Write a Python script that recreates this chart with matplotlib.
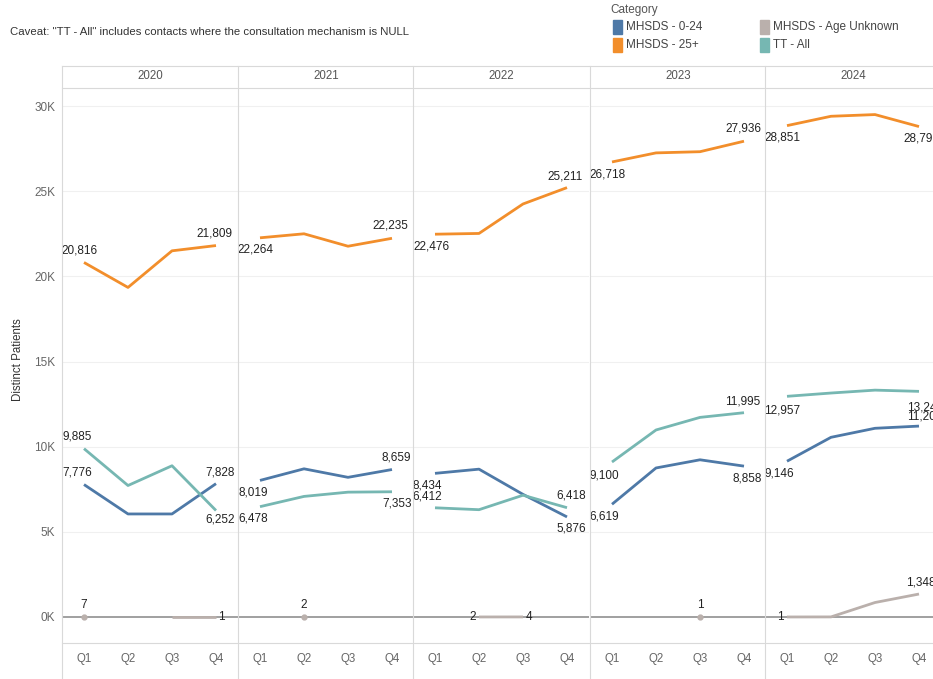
import numpy as np
import matplotlib.pyplot as plt
from matplotlib.lines import Line2D
from matplotlib.patches import Rectangle

plt.rcParams['font.family'] = ['Liberation Sans', 'DejaVu Sans']

# data
years = ['2020', '2021', '2022', '2023', '2024']
quarters = ['Q1', 'Q2', 'Q3', 'Q4']
nan = np.nan

mhsds_0_24 = [[7776, 6050, 6050, 7828],
              [8019, 8700, 8200, 8659],
              [8434, 8680, 7200, 5876],
              [6619, 8750, 9230, 8858],
              [9146, 10550, 11080, 11209]]
mhsds_25 = [[20816, 19350, 21500, 21809],
            [22264, 22500, 21770, 22235],
            [22476, 22520, 24250, 25211],
            [26718, 27250, 27320, 27936],
            [28851, 29400, 29500, 28796]]
mhsds_unknown = [[7, nan, 1, 1],
                 [nan, 2, nan, nan],
                 [nan, 2, 4, nan],
                 [nan, nan, 1, nan],
                 [1, 5, 850, 1348]]
tt_all = [[9885, 7720, 8880, 6252],
          [6478, 7080, 7330, 7353],
          [6412, 6300, 7150, 6418],
          [9100, 10980, 11720, 11995],
          [12957, 13150, 13320, 13248]]

series = [
    ('MHSDS - 0-24', mhsds_0_24, '#4e79a7'),
    ('MHSDS - 25+', mhsds_25, '#f28e2b'),
    ('MHSDS - Age Unknown', mhsds_unknown, '#bab0ac'),
    ('TT - All', tt_all, '#76b7b2'),
]

# label offsets in pixels (year, quarter, dx, dy)
label_pos = {
    'MHSDS - 0-24': [(0, 0, -7, 12), (0, 3, 4, 11), (1, 0, -7, -12), (1, 3, 4, 12),
                     (2, 0, -8, -12), (2, 3, 4, -12), (3, 0, -8, -12), (3, 3, 3, -12),
                     (4, 0, -8, -12), (4, 3, 6, 10)],
    'MHSDS - 25+': [(0, 0, -4, 12), (0, 3, -2, 12), (1, 0, -5, -12), (1, 3, -2, 13),
                    (2, 0, -4, -12), (2, 3, -2, 11), (3, 0, -5, -13), (3, 3, -1, 13),
                    (4, 0, -5, -12), (4, 3, 2, -12)],
    'MHSDS - Age Unknown': [(0, 0, 0, 12), (0, 3, 5, 0), (1, 1, 0, 12), (2, 1, -6, 0),
                            (2, 2, 6, 0), (3, 2, 0, 12), (4, 0, -7, 0), (4, 3, 2, 12)],
    'TT - All': [(0, 0, -7, 12), (0, 3, 4, -9), (1, 0, -7, -12), (1, 3, 5, -12),
                 (2, 0, -8, 11), (2, 3, 4, 12), (3, 0, -8, -13), (3, 3, -1, 11),
                 (4, 0, -5, -14), (4, 3, 6, -16)],
}

W, H = 933, 679
fig = plt.figure(figsize=(W / 100, H / 100), dpi=100)


def fx(px):
    return px / W


def fy(py):
    return 1 - py / H


panel_left = [62, 238, 413, 590, 765]
panel_w = 176
plot_top, plot_bottom = 88, 643
ymin, ymax = -1527, 31060
grid_c = '#d9d9d9'

x = np.arange(1, 5)
for i, yr in enumerate(years):
    ax = fig.add_axes([fx(panel_left[i]), fy(plot_bottom), fx(panel_w),
                       (plot_bottom - plot_top) / H])
    ax.set_xlim(0.5, 4.5)
    ax.set_ylim(ymin, ymax)
    for s in ax.spines.values():
        s.set_visible(False)
    for g in range(5000, 31000, 5000):
        ax.axhline(g, color='#f0f0f0', lw=0.8, zorder=0)
    ax.axhline(0, color='#a0a0a0', lw=1.4, zorder=1)
    ax.set_xticks(x)
    ax.set_xticklabels(quarters, fontsize=8.3, color='#666666')
    ax.tick_params(axis='x', length=0, pad=7)
    if i == 0:
        ax.set_yticks(range(0, 31000, 5000))
        ax.set_yticklabels([f'{v // 1000}K' for v in range(0, 31000, 5000)],
                           fontsize=8.5, color='#666666')
        ax.tick_params(axis='y', length=0, pad=5)
    else:
        ax.set_yticks([])

    for name, data, col in series:
        vals = np.array(data[i], dtype=float)
        ax.plot(x, vals, color=col, lw=2.0, solid_capstyle='butt', zorder=3)
        # isolated points
        for k in range(4):
            if np.isnan(vals[k]):
                continue
            left = k == 0 or np.isnan(vals[k - 1])
            right = k == 3 or np.isnan(vals[k + 1])
            if left and right:
                ax.plot(x[k], vals[k], 'o', color=col, ms=3.5, zorder=3)
        for (yi, qi, dx, dy) in label_pos[name]:
            if yi != i:
                continue
            v = data[yi][qi]
            ax.annotate(f'{int(v):,}', (x[qi], v), xytext=(dx, dy),
                        textcoords='offset pixels', ha='center', va='center',
                        fontsize=8.5, color='#222222', zorder=5,
                        annotation_clip=False)

    fig.text(fx(panel_left[i] + panel_w / 2), fy(76), yr, ha='center',
             va='center', fontsize=8.3, color='#555555')

fig.text(fx(18), fy(360), 'Distinct Patients', rotation=90, ha='center',
         va='center', fontsize=8.3, color='#333333')

# frame lines
for px in panel_left:
    fig.add_artist(Line2D([fx(px), fx(px)], [fy(66), fy(679)], color=grid_c, lw=0.8))
for py in (66, 88, 643):
    fig.add_artist(Line2D([fx(62), 1], [fy(py), fy(py)], color=grid_c, lw=0.8))

# caveat
fig.text(fx(10), fy(32), 'Caveat: "TT - All" includes contacts where the consultation mechanism is NULL',
         fontsize=8.2, color='#333333', va='center')

# legend
fig.text(fx(610), fy(10), 'Category', fontsize=8.5, color='#555555', va='center')
leg_pos = [(613, 27), (760, 27), (613, 45), (760, 45)]
leg_order = [0, 2, 1, 3]
for (lx, ly), idx in zip(leg_pos, leg_order):
    name, _, col = series[idx]
    fig.add_artist(Rectangle((fx(lx), fy(ly + 7)), fx(9), 14 / H, color=col))
    fig.text(fx(lx + 13), fy(ly), name, fontsize=8.5, color='#444444', va='center')

fig.savefig('out.png', dpi=100)
